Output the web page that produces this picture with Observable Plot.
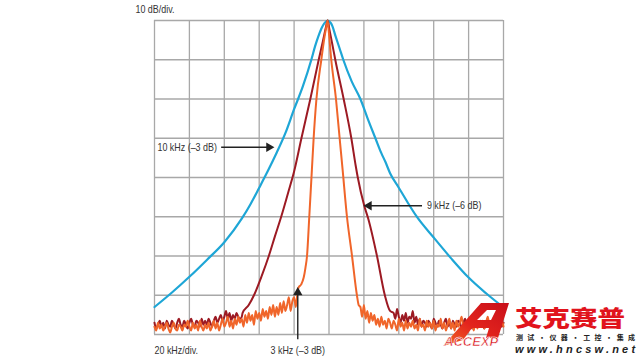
<!DOCTYPE html>
<html>
<head>
<meta charset="utf-8">
<script src="https://cdn.jsdelivr.net/npm/d3@7"></script>
<script src="https://cdn.jsdelivr.net/npm/@observablehq/plot@0.6"></script>
<style>
html, body { margin: 0; padding: 0; background: #fff; }
#wrap { position: relative; width: 640px; height: 360px; overflow: hidden; }
#chart svg { display: block; }
.wm { position: absolute; white-space: nowrap; line-height: 1; }
#logo { position: absolute; left: 0; top: 0; }
#logoT { left: 444px; top: 334px; font: italic 900 13px "Liberation Sans", Arial, sans-serif; color: #d9181f; -webkit-text-stroke: 0.6px #fff; }
#cn { left: 515px; top: 300px; font: 900 22px "Noto Sans CJK SC", sans-serif; color: #e1131c; transform: scaleX(1.25); transform-origin: left top; }
#cn2 { left: 516px; top: 332px; font: 700 7px "Noto Sans CJK SC", sans-serif; color: #222; letter-spacing: 4.2px; }
#url { left: 515px; top: 343px; font: italic 700 11px "Liberation Sans", Arial, sans-serif; color: #222; letter-spacing: 3.2px; }
</style>
</head>
<body>
<div id="wrap">
  <div id="chart"></div>
  <svg id="logo" width="640" height="360">
    <defs>
      <linearGradient id="lg" x1="0" y1="1" x2="1" y2="0">
        <stop offset="0" stop-color="#f26a24"/>
        <stop offset="0.45" stop-color="#e3241d"/>
        <stop offset="1" stop-color="#c80f1a"/>
      </linearGradient>
    </defs>
    <path fill="url(#lg)" fill-rule="evenodd"
      d="M443,346 L481,303 L509,303 L498,338 L486,338 L489,328 L472,328 L463,340 Z M477,320 L491,320 L496,310 L487,310 Z"/>
  </svg>
  <div class="wm" id="logoT">ACCEXP</div>
  <div class="wm" id="cn">艾克赛普</div>
  <div class="wm" id="cn2">测试·仪器·工控·集成</div>
  <div class="wm" id="url">www.hncsw.net</div>
</div>
<script>
// Grid ticks (20 kHz/div, 10 dB/div)
const xTicks = [-100, -80, -60, -40, -20, 0, 20, 40, 60, 80, 100];
const yTicks = [-80, -70, -60, -50, -40, -30, -20, -10, 0];

// 10 kHz filter (blue)
const blueFreq  = [-100,-90,-80,-70,-60,-50,-45,-40,-35,-30,-25,-20,-15,-10,-8,-6,-4,-2.5,-0.8,1,2,3.6,6,8.2,13,18,22,26.6,30,32.3,35,40,45,50,60,70,80,90,100];
const blueLevel = [-73,-69.3,-65.3,-61,-56.5,-50.5,-46.8,-42.6,-38.3,-33.7,-28.7,-22.6,-16.8,-9.8,-6.6,-3.9,-1.7,-0.6,0,-0.6,-1.5,-3.8,-7,-10,-15.5,-20,-24.8,-30,-33.8,-36,-38.9,-42.6,-46.3,-49.8,-55.3,-60.6,-65.5,-69.5,-73.1];

// 9 kHz filter (dark red): noise left (-100..-50 kHz, 1 kHz bins), main lobe, noise right (37..100 kHz)
const redNoiseLeft = [
  -77,-78.5,-77.5,-76.5,-78,-77,-78.5,-76.5,-77.5,-78,
  -76.5,-77.5,-78.5,-77,-76,-77.5,-78,-76.5,-77.5,-78.5,
  -77,-76,-77.5,-78,-76.5,-77,-78,-76,-77.5,-76.5,
  -77.5,-76,-77,-78,-76.5,-75.5,-77,-76,-75,-76.5,
  -75.5,-74,-76,-74.5,-76.5,-75,-76,-74.5,-75.5,-76,
  -75.5];
const redLobeFreq  = [-49.5,-46,-43,-38.5,-34.5,-31,-27.4,-23.5,-20,-15.8,-10.7,-5.9,-3.5,-1.8,-0.8,0.2,2,3.6,8.4,12.8,15.3,16.5,20.2,22.5,27.5,32,35];
const redLobeLevel = [-74.5,-72.5,-70,-65,-60,-55,-50,-44,-38.5,-30,-20,-10,-5.3,-1.8,0,-2.2,-6.3,-10,-20,-30,-37,-40,-47.2,-50.5,-60,-70,-74];
const redNoiseRight = [
  -74.5,-76,-73.5,-75.5,-77,-75,-76.5,-74.5,-77,-75.5,
  -76,-74,-77,-75.5,-77.5,-76,-78,-76.5,-77,-78,
  -76.5,-77.5,-78.5,-76,-77,-78,-76.5,-77.5,-78.5,-77,
  -76,-78,-77,-78.5,-76.5,-77.5,-78,-76.5,-77,-78.5,
  -77,-76,-78,-77.5,-76.5,-78.5,-77,-76,-77.5,-78,
  -76.5,-77.5,-78.5,-77,-76,-78,-77.5,-76.5,-78,-77,
  -77.5,-76.5,-78,-77];

// 3 kHz filter (orange): noise left (-100..-19 kHz), main lobe, noise right (18..100 kHz)
const orangeNoiseLeft = [
  -78,-79,-77,-78.5,-77.5,-79,-78,-77,-78.5,-79.5,
  -78,-77,-78.5,-79,-77.5,-78,-79,-77.5,-78,-76.5,
  -78,-79,-77,-78.5,-77.5,-79,-76.5,-78,-79,-77.5,
  -78.5,-77,-79,-78,-76.5,-78.5,-77,-79,-77.5,-76,
  -78,-77,-75.5,-78,-76.5,-78.5,-76,-77.5,-75.5,-77,
  -76,-78,-75,-77,-74.5,-76.5,-75,-77.5,-74,-76,
  -74.5,-76.5,-73.5,-75.5,-74,-76,-73,-75,-72.5,-75.5,
  -73,-75,-72,-74.5,-71.5,-74,-72.5,-70.5,-74,-71.5,
  -70.5,-73];
const orangeLobeFreq  = [-18,-17.4,-16,-14.5,-13.5,-12.6,-11.3,-9.8,-8.8,-7.2,-4.4,-2.5,-1.5,-0.8,-0.3,1.3,4,6.1,7.8,10.3,13.2,16,17];
const orangeLobeLevel = [-69,-68,-67.3,-65.5,-63,-60,-50,-38,-30,-20,-10,-4,-1.5,0,-2,-10,-20,-30,-38,-50,-60,-70,-72.5];
const orangeNoiseRight = [
  -73,-75.5,-72.5,-76,-74,-77,-74.5,-76.5,-75,-77.5,
  -76,-78,-75.5,-77.5,-76.5,-78.5,-76,-77,-78.5,-76.5,
  -77.5,-79,-76,-78,-77,-79,-76.5,-78.5,-77,-78,
  -76.5,-78.5,-77.5,-79,-76,-78,-77.5,-79,-76.5,-78,
  -77,-78.5,-76.5,-79,-77.5,-78,-76,-78.5,-77,-79,
  -77.5,-76,-78.5,-77,-79,-76.5,-78,-77,-75.5,-78,
  -77,-79,-76.5,-78,-77.5,-79,-76,-78.5,-77,-78,
  -76.5,-78.5,-77,-75.5,-78,-77,-79,-76.5,-78,-76,
  -77.5,-76.5,-78];

const labels = {
  yUnit: "10 dB/div.",
  xUnit: "20 kHz/div.",
  blue: "10 kHz (–3 dB)",
  red: "9 kHz (–6 dB)",
  orange: "3 kHz (–3 dB)"
};

// Build series tables (noise sampled at 1 kHz bins)
const seg = (freqs, levels) => freqs.map((f, i) => ({f, v: levels[i]}));
const blue = seg(blueFreq, blueLevel);
const red = [
  ...seg(d3.range(-100, -100 + redNoiseLeft.length), redNoiseLeft),
  ...seg(redLobeFreq, redLobeLevel),
  ...seg(d3.range(37, 37 + redNoiseRight.length), redNoiseRight)
];
const orange = [
  ...seg(d3.range(-100, -100 + orangeNoiseLeft.length), orangeNoiseLeft),
  ...seg(orangeLobeFreq, orangeLobeLevel),
  ...seg(d3.range(18, 18 + orangeNoiseRight.length), orangeNoiseRight)
];

const FONT = '"Liberation Sans", Arial, sans-serif';
const INK = "#222";
const txt = {fontFamily: FONT, fontSize: 10.5, fill: "#333"};

const chart = Plot.plot({
  width: 640,
  height: 360,
  marginLeft: 154,
  marginRight: 137,
  marginTop: 20,
  marginBottom: 26,
  x: {domain: [-100, 100], axis: null},
  y: {domain: [-80, 0], axis: null},
  marks: [
    Plot.ruleX(xTicks, {stroke: "#a8a8a8", strokeWidth: 1.3}),
    Plot.ruleY(yTicks, {stroke: "#a8a8a8", strokeWidth: 1.3}),
    Plot.line(blue, {x: "f", y: "v", stroke: "#1ea6d6", strokeWidth: 2.2, curve: "monotone-x"}),
    Plot.line(red, {x: "f", y: "v", stroke: "#9c1a23", strokeWidth: 2, curve: "monotone-x"}),
    Plot.line(orange, {x: "f", y: "v", stroke: "#f0652a", strokeWidth: 2, curve: "monotone-x"}),
    // annotation arrows
    Plot.link([0], {x1: -61.8, x2: -34, y1: -32.3, y2: -32.3, stroke: INK, strokeWidth: 1.4}),
    Plot.dot([0], {x: -31.3, y: -32.3, dx: -5.4, symbol: "triangle", r: 3.5, fill: INK, stroke: null, rotate: 90}),
    Plot.link([0], {x1: 53.3, x2: 23, y1: -47.2, y2: -47.2, stroke: INK, strokeWidth: 1.4}),
    Plot.dot([0], {x: 19.8, y: -47.2, dx: 5.4, symbol: "triangle", r: 3.5, fill: INK, stroke: null, rotate: -90}),
    Plot.link([0], {x1: -17.9, x2: -17.9, y1: -81.2, y2: -69.5, stroke: INK, strokeWidth: 1.4}),
    Plot.dot([0], {x: -17.9, y: -67.9, dy: 5.4, symbol: "triangle", r: 3.5, fill: INK, stroke: null}),
    // labels
    Plot.text([labels.blue], {x: -98.3, y: -32.3, text: d => d, textAnchor: "start", ...txt}),
    Plot.text([labels.red], {x: 56.1, y: -47.2, text: d => d, textAnchor: "start", ...txt}),
    Plot.text([labels.orange], {x: -17.9, y: -84.1, text: d => d, textAnchor: "middle", ...txt}),
    Plot.text([labels.xUnit], {x: -100, y: -84.1, text: d => d, textAnchor: "start", ...txt}),
    Plot.text([labels.yUnit], {x: -110.9, y: 2.8, text: d => d, textAnchor: "start", ...txt})
  ]
});

// Narrow (condensed) look for the labels: horizontal squeeze about each text's anchor
chart.querySelectorAll('g[aria-label="text"] text').forEach(t => {
  const tr = t.getAttribute("transform");
  if (tr && tr.indexOf("translate") >= 0) t.setAttribute("transform", tr + " scale(0.85,1)");
});

document.getElementById("chart").appendChild(chart);
</script>
</body>
</html>
